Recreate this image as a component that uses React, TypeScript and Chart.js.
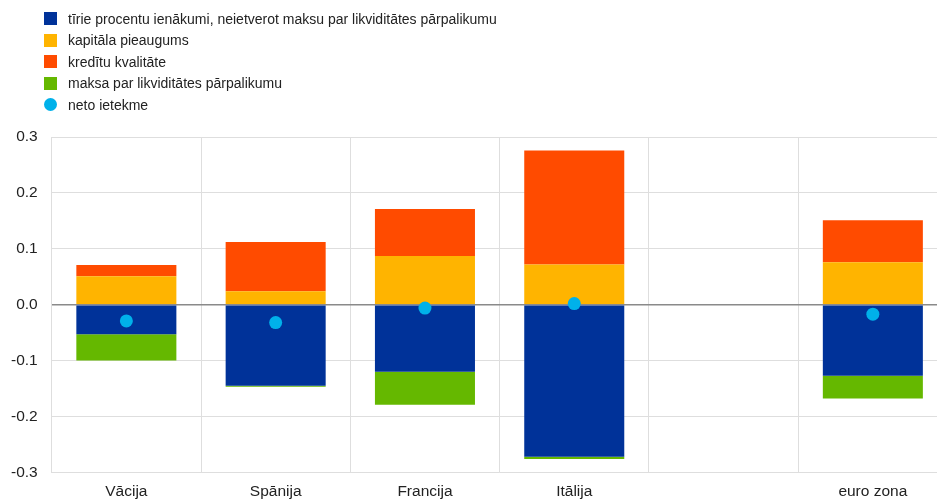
import React, { useEffect, useRef } from "react";
import { Chart, registerables } from "chart.js";

Chart.register(...registerables);

const categories = ["Vācija", "Spānija", "Francija", "Itālija", "", "euro zona"];
const netInterest = [-0.053, -0.145, -0.120, -0.272, null, -0.127];
const capitalGain = [0.051, 0.024, 0.087, 0.072, null, 0.076];
const creditQuality = [0.020, 0.088, 0.084, 0.204, null, 0.075];
const excessLiquidityFee = [-0.047, -0.002, -0.059, -0.004, null, -0.041];
const netEffect = [-0.029, -0.032, -0.006, 0.002, null, -0.017];

const seriesNames = [
  "tīrie procentu ienākumi, neietverot maksu par likviditātes pārpalikumu",
  "kapitāla pieaugums",
  "kredītu kvalitāte",
  "maksa par likviditātes pārpalikumu",
  "neto ietekme",
];
const colors = ["#003299", "#FFB400", "#FF4B00", "#65B800", "#00B1EA"];
const yTicks = [-0.3, -0.2, -0.1, 0.0, 0.1, 0.2, 0.3];

const FONT = "'Liberation Sans', Arial, sans-serif";

export default function App() {
  const ref = useRef<HTMLCanvasElement | null>(null);
  useEffect(() => {
    if (!ref.current) return;
    const chart = new Chart(ref.current, {
      type: "bar",
      data: {
        labels: categories,
        datasets: [
          { type: "line", label: seriesNames[4], data: netEffect as any, showLine: false, pointRadius: 6.5, pointHoverRadius: 6.5, pointBackgroundColor: colors[4], pointBorderWidth: 0, borderColor: colors[4], backgroundColor: colors[4], stack: "net", order: 0 } as any,
          { label: seriesNames[0], data: netInterest as any, backgroundColor: colors[0], stack: "a", order: 1 },
          { label: seriesNames[1], data: capitalGain as any, backgroundColor: colors[1], stack: "a", order: 1 },
          { label: seriesNames[2], data: creditQuality as any, backgroundColor: colors[2], stack: "a", order: 1 },
          { label: seriesNames[3], data: excessLiquidityFee as any, backgroundColor: colors[3], stack: "a", order: 1 },
        ],
      },
      options: {
        animation: false,
        responsive: true,
        maintainAspectRatio: false,
        layout: { padding: { top: 137, left: 0, right: 3, bottom: 0 } },
        plugins: { legend: { display: false }, tooltip: { enabled: false } },
        datasets: { bar: { barPercentage: 0.67, categoryPercentage: 1 } },
        scales: {
          x: {
            stacked: true,
            grid: { offset: true, color: "#dedede", lineWidth: 1, drawTicks: false },
            border: { color: "#dedede" },
            ticks: { font: { family: FONT, size: 15.5 }, color: "#222", padding: 10 },
          },
          y: {
            stacked: true,
            min: -0.3,
            max: 0.3,
            afterBuildTicks: (s: any) => { s.ticks = yTicks.map((v) => ({ value: v })); },
            grid: {
              drawTicks: false,
              color: (ctx: any) => (ctx.tick && Math.abs(ctx.tick.value) < 1e-9 ? "#8a8a8a" : "#dedede"),
              lineWidth: (ctx: any) => (ctx.tick && Math.abs(ctx.tick.value) < 1e-9 ? 1.5 : 1),
            },
            border: { color: "#dedede" },
            ticks: {
              font: { family: FONT, size: 15.5 },
              color: "#222",
              padding: 14,
              callback: (v: any) => Number(v).toFixed(1),
            },
          },
        },
      },
    });
    return () => chart.destroy();
  }, []);

  return (
    <div style={{ position: "absolute", left: 0, top: 0, width: 937, height: 500, overflow: "hidden", background: "#fff" }}>
      <div style={{ position: "absolute", left: -3, top: 0, width: 957, height: 511 }}>
        <canvas ref={ref} />
      </div>
      <div style={{ position: "absolute", left: 44, top: 8, fontFamily: FONT, fontSize: 14, color: "#222" }}>
        {seriesNames.map((n, i) => (
          <div key={i} style={{ display: "flex", alignItems: "center", height: 21.5 }}>
            <span
              style={{
                display: "inline-block",
                width: 13,
                height: 13,
                background: colors[i],
                borderRadius: i === 4 ? "50%" : 0,
                marginRight: 11,
              }}
            />
            <span>{n}</span>
          </div>
        ))}
      </div>
    </div>
  );
}
